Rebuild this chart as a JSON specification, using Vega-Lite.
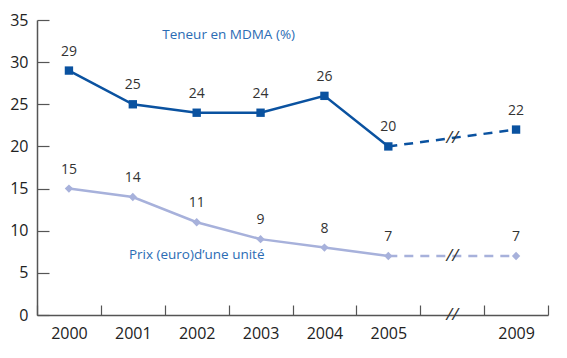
{
  "$schema": "https://vega.github.io/schema/vega-lite/v6.json",
  "width": 511,
  "height": 295,
  "autosize": {"type": "none"},
  "padding": {"left": 37, "top": 20, "right": 19, "bottom": 43},
  "background": "white",
  "config": {"view": {"stroke": null}, "font": "Open Sans"},
  "datasets": {
    "pts": [
      {"series": "MDMA", "year": "2000", "value": 29},
      {"series": "MDMA", "year": "2001", "value": 25},
      {"series": "MDMA", "year": "2002", "value": 24},
      {"series": "MDMA", "year": "2003", "value": 24},
      {"series": "MDMA", "year": "2004", "value": 26},
      {"series": "MDMA", "year": "2005", "value": 20},
      {"series": "MDMA", "year": "2009", "value": 22},
      {"series": "Prix", "year": "2000", "value": 15},
      {"series": "Prix", "year": "2001", "value": 14},
      {"series": "Prix", "year": "2002", "value": 11},
      {"series": "Prix", "year": "2003", "value": 9},
      {"series": "Prix", "year": "2004", "value": 8},
      {"series": "Prix", "year": "2005", "value": 7},
      {"series": "Prix", "year": "2009", "value": 7}
    ],
    "breaks": [
      {"year": "gap", "value": 21},
      {"year": "gap", "value": 7},
      {"year": "gap", "value": 0}
    ]
  },
  "encoding": {
    "x": {
      "field": "year", "type": "ordinal",
      "scale": {"type": "band", "domain": ["2000","2001","2002","2003","2004","2005","gap","2009"], "paddingInner": 0, "paddingOuter": 0},
      "axis": {
        "title": null, "tickBand": "extent", "tickSize": -10, "labelPadding": 20,
        "labelExpr": "datum.value == 'gap' ? '' : datum.value",
        "labelFontSize": 16, "labelColor": "#222", "labelAngle": 0,
        "domainColor": "#555", "tickColor": "#555", "domainWidth": 1.5, "tickWidth": 1.2, "grid": false
      }
    },
    "y": {
      "field": "value", "type": "quantitative",
      "scale": {"domain": [0, 35], "nice": false},
      "axis": {
        "title": null, "values": [0,5,10,15,20,25,30,35], "tickSize": -12, "labelPadding": 21,
        "labelFontSize": 16, "labelColor": "#222",
        "domainColor": "#555", "tickColor": "#555", "domainWidth": 1.5, "tickWidth": 1.2, "grid": false
      }
    }
  },
  "layer": [
    {
      "data": {"name": "pts"},
      "transform": [{"filter": "datum.year != '2009'"}],
      "mark": {"type": "line", "strokeWidth": 2.5},
      "encoding": {
        "color": {"field": "series", "type": "nominal", "scale": {"domain": ["MDMA","Prix"], "range": ["#0A52A0","#A7B1DB"]}, "legend": null}
      }
    },
    {
      "data": {"name": "pts"},
      "transform": [{"filter": "datum.year == '2005' || datum.year == '2009'"}],
      "mark": {"type": "line", "strokeWidth": 2.5, "strokeDash": [9, 7]},
      "encoding": {
        "color": {"field": "series", "type": "nominal", "scale": {"domain": ["MDMA","Prix"], "range": ["#0A52A0","#A7B1DB"]}, "legend": null}
      }
    },
    {
      "data": {"name": "pts"},
      "mark": {"type": "point", "filled": true, "opacity": 1},
      "encoding": {
        "color": {"field": "series", "type": "nominal", "scale": {"domain": ["MDMA","Prix"], "range": ["#0A52A0","#A7B1DB"]}, "legend": null},
        "shape": {"field": "series", "type": "nominal", "scale": {"domain": ["MDMA","Prix"], "range": ["square","diamond"]}, "legend": null},
        "size": {"value": 70}
      }
    },
    {
      "data": {"name": "pts"},
      "mark": {"type": "text", "dy": -19, "fontSize": 14, "color": "#333"},
      "encoding": {"text": {"field": "value", "type": "quantitative"}}
    },
    {
      "data": {"name": "breaks"},
      "mark": {"type": "text", "fontSize": 17, "color": "#333", "fontStyle": "italic", "text": "//"}
    },
    {
      "data": {"values": [{"year": "2003", "value": 33.2, "label": "Teneur en MDMA (%)"}]},
      "mark": {"type": "text", "fontSize": 13.5, "color": "#2B6CB4"},
      "encoding": {
        "x": {"field": "year", "type": "ordinal", "bandPosition": 0},
        "text": {"field": "label"}
      }
    },
    {
      "data": {"values": [{"year": "2002", "value": 7.1, "label": "Prix (euro)d’une unité"}]},
      "mark": {"type": "text", "fontSize": 13.5, "color": "#2B6CB4"},
      "encoding": {"text": {"field": "label"}}
    }
  ]
}
